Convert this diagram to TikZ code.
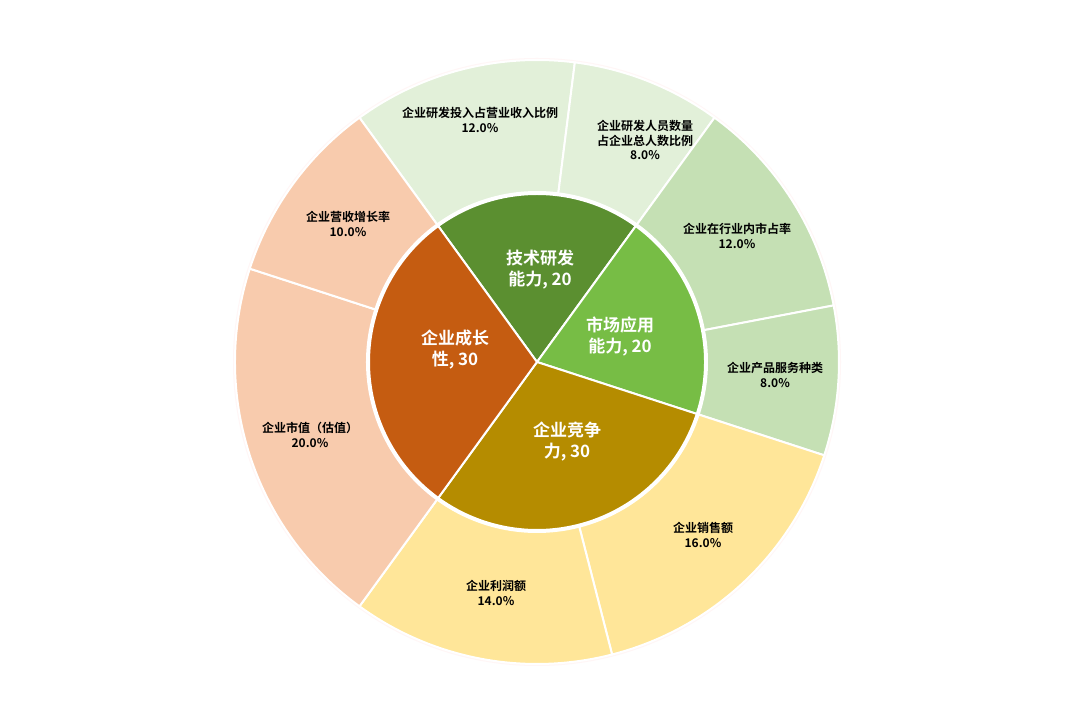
\documentclass[tikz,border=0pt]{standalone}
\usepackage{fontspec}
\newfontfamily\cjk{Noto Sans CJK SC}[BoldFont={Noto Sans CJK SC Bold}]
\definecolor{cTech}{HTML}{5B8F30}
\definecolor{cMkt}{HTML}{77BD45}
\definecolor{cComp}{HTML}{B58C00}
\definecolor{cGrow}{HTML}{C55C11}
\definecolor{oTech}{HTML}{E2F0D9}
\definecolor{oMkt}{HTML}{C5E0B4}
\definecolor{oComp}{HTML}{FFE699}
\definecolor{oGrow}{HTML}{F8CBAD}
\newcommand{\sect}[5]{% color, a1, a2, r1, r2
  \fill[#1,draw=white,line width=2pt] (#2:#4) arc[start angle=#2,end angle=#3,radius=#4] -- (#3:#5) arc[start angle=#3,end angle=#2,radius=#5] -- cycle;}
\tikzset{olab/.style={font=\cjk\bfseries\fontsize{12}{14.5}\selectfont,align=center,text=black},
ilab/.style={font=\cjk\bfseries\fontsize{17}{21}\selectfont,align=center,text=white}}
\begin{document}
\begin{tikzpicture}[x=1pt,y=1pt]
\useasboundingbox[fill=white] (0,0) rectangle (1080,726);
\begin{scope}[shift={(537,364)}]
\fill[white!85!pink] (0,0) circle (304);
\sect{oTech}{126}{82.8}{302}{170}
\sect{oTech}{82.8}{54}{302}{170}
\sect{oMkt}{54}{10.8}{302}{170}
\sect{oMkt}{10.8}{-18}{302}{170}
\sect{oComp}{-18}{-75.6}{302}{170}
\sect{oComp}{-75.6}{-126}{302}{170}
\sect{oGrow}{-126}{-198}{302}{170}
\sect{oGrow}{-198}{-234}{302}{170}
\fill[white] (0,0) circle (170);
\sect{cTech}{126}{54}{168}{0}
\sect{cMkt}{54}{-18}{168}{0}
\sect{cComp}{-18}{-126}{168}{0}
\sect{cGrow}{-126}{-234}{168}{0}
\end{scope}
\node[ilab] (t) at (540,456) {技术研发\\能力, 20};
\node[ilab] (m) at (620,389) {市场应用\\能力, 20};
\node[ilab] (c) at (567,284) {企业竞争\\力, 30};
\node[ilab] (g) at (455,376) {企业成长\\性, 30};
\node[olab] (o1) at (480,606) {企业研发投入占营业收入比例\\12.0\%};
\node[olab] (o2) at (645,586) {企业研发人员数量\\占企业总人数比例\\8.0\%};
\node[olab] (o3) at (737,490) {企业在行业内市占率\\12.0\%};
\node[olab] (o4) at (775,351) {企业产品服务种类\\8.0\%};
\node[olab] (o5) at (703,191) {企业销售额\\16.0\%};
\node[olab] (o6) at (496,133) {企业利润额\\14.0\%};
\node[olab] (o7) at (310,291) {企业市值（估值）\\20.0\%};
\node[olab] (o8) at (348,502) {企业营收增长率\\10.0\%};
\end{tikzpicture}
\end{document}
